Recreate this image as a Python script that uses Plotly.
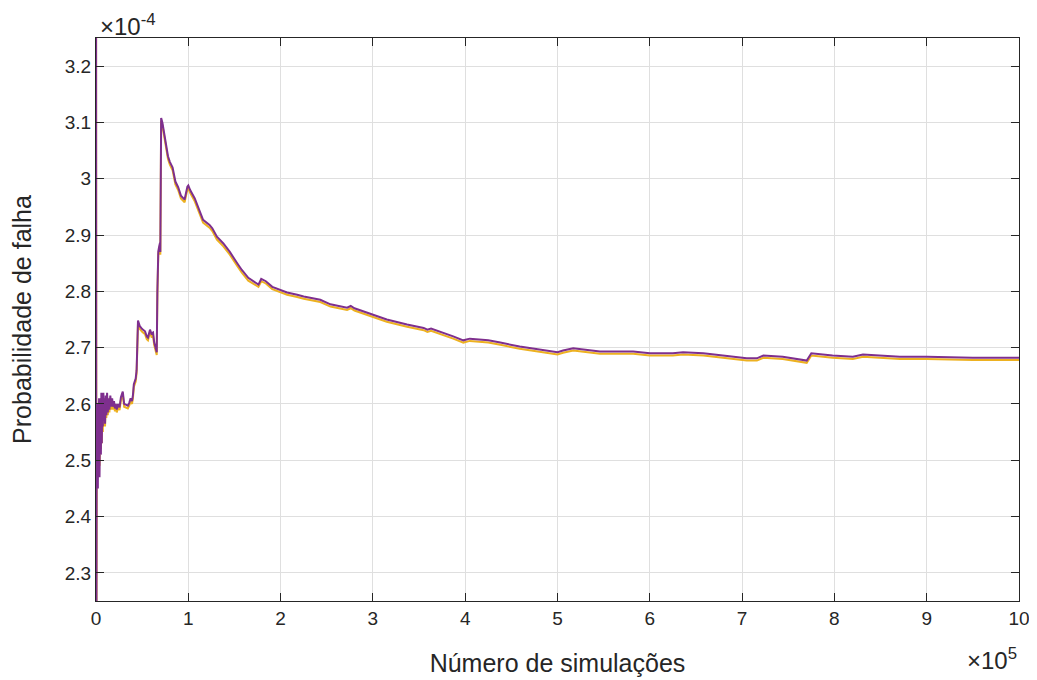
import plotly.graph_objects as go

# x: número de simulações (×10^5); y: probabilidade de falha (×10^-4)
sim_x = [0.000, 0.004, 0.008, 0.012, 0.016, 0.020, 0.024, 0.028, 0.033, 0.038,
         0.043, 0.048, 0.053, 0.058, 0.063, 0.068, 0.074, 0.080, 0.086, 0.092,
         0.098, 0.105, 0.112, 0.120, 0.128, 0.136, 0.145, 0.155, 0.165, 0.175,
         0.185, 0.195, 0.205, 0.215, 0.225, 0.240, 0.255, 0.270, 0.290, 0.305,
         0.325, 0.345, 0.360, 0.375, 0.390, 0.400, 0.410, 0.420, 0.430, 0.440,
         0.447, 0.455, 0.475, 0.500, 0.531, 0.550, 0.563, 0.575, 0.585, 0.600,
         0.618, 0.630, 0.645, 0.658, 0.665, 0.675, 0.685, 0.693, 0.697, 0.700,
         0.706, 0.720, 0.740, 0.760, 0.780, 0.800, 0.830, 0.860, 0.890, 0.920,
         0.960, 0.990, 1.000, 1.020, 1.070, 1.160, 1.230, 1.260, 1.310, 1.380,
         1.450, 1.530, 1.580, 1.650, 1.760, 1.790, 1.840, 1.910, 2.000, 2.070,
         2.180, 2.250, 2.430, 2.500, 2.540, 2.720, 2.760, 2.800, 3.000, 3.150,
         3.370, 3.550, 3.590, 3.630, 3.870, 3.980, 4.050, 4.250, 4.380, 4.590,
         5.000, 5.060, 5.170, 5.460, 5.820, 6.000, 6.250, 6.360, 6.580, 6.680,
         6.900, 7.050, 7.160, 7.230, 7.440, 7.700, 7.750, 7.980, 8.200, 8.310,
         8.710, 9.000, 9.500, 10.000]

prob_roxo = [3.600, 2.100, 2.580, 2.460, 2.600, 2.450, 2.590, 2.480, 2.610, 2.470,
             2.550, 2.610, 2.510, 2.620, 2.530, 2.610, 2.560, 2.620, 2.570, 2.610,
             2.565, 2.615, 2.580, 2.620, 2.585, 2.610, 2.590, 2.615, 2.595, 2.610,
             2.595, 2.605, 2.592, 2.600, 2.590, 2.600, 2.594, 2.612, 2.622, 2.600,
             2.598, 2.597, 2.602, 2.610, 2.605, 2.615, 2.635, 2.640, 2.645, 2.660,
             2.700, 2.748, 2.738, 2.733, 2.729, 2.720, 2.718, 2.728, 2.732, 2.725,
             2.727, 2.710, 2.700, 2.692, 2.800, 2.871, 2.880, 2.886, 2.870, 3.104,
             3.108, 3.099, 3.080, 3.060, 3.040, 3.030, 3.020, 2.995, 2.985, 2.970,
             2.963, 2.986, 2.988, 2.980, 2.965, 2.927, 2.918, 2.912, 2.897, 2.885,
             2.870, 2.850, 2.838, 2.824, 2.812, 2.822, 2.818, 2.808, 2.803, 2.798,
             2.794, 2.791, 2.785, 2.780, 2.777, 2.771, 2.774, 2.770, 2.759, 2.750,
             2.741, 2.735, 2.732, 2.734, 2.720, 2.713, 2.716, 2.713, 2.709, 2.702,
             2.692, 2.695, 2.699, 2.693, 2.693, 2.690, 2.690, 2.692, 2.690, 2.688,
             2.684, 2.681, 2.681, 2.686, 2.684, 2.677, 2.690, 2.686, 2.684, 2.688,
             2.684, 2.684, 2.682, 2.682]

prob_amarelo = [3.600, 2.100, 2.570, 2.470, 2.590, 2.480, 2.580, 2.490, 2.600, 2.490,
                2.540, 2.600, 2.520, 2.610, 2.530, 2.600, 2.550, 2.610, 2.560, 2.600,
                2.560, 2.605, 2.575, 2.612, 2.580, 2.604, 2.585, 2.610, 2.590, 2.605,
                2.590, 2.600, 2.587, 2.595, 2.585, 2.595, 2.589, 2.607, 2.617, 2.595,
                2.593, 2.592, 2.597, 2.605, 2.600, 2.610, 2.630, 2.635, 2.640, 2.655,
                2.695, 2.743, 2.733, 2.728, 2.724, 2.715, 2.713, 2.723, 2.727, 2.720,
                2.722, 2.705, 2.695, 2.687, 2.795, 2.866, 2.875, 2.881, 2.865, 3.099,
                3.103, 3.094, 3.075, 3.055, 3.035, 3.025, 3.015, 2.990, 2.980, 2.965,
                2.958, 2.981, 2.983, 2.975, 2.960, 2.922, 2.913, 2.907, 2.892, 2.880,
                2.865, 2.845, 2.833, 2.819, 2.808, 2.818, 2.814, 2.804, 2.799, 2.794,
                2.790, 2.787, 2.781, 2.776, 2.773, 2.767, 2.770, 2.766, 2.755, 2.746,
                2.737, 2.731, 2.728, 2.730, 2.716, 2.709, 2.712, 2.709, 2.705, 2.698,
                2.688, 2.691, 2.695, 2.689, 2.689, 2.686, 2.686, 2.688, 2.686, 2.684,
                2.680, 2.677, 2.677, 2.682, 2.680, 2.673, 2.686, 2.682, 2.680, 2.684,
                2.680, 2.680, 2.678, 2.678]

x_ticks = [0, 1, 2, 3, 4, 5, 6, 7, 8, 9, 10]
y_ticks = [2.3, 2.4, 2.5, 2.6, 2.7, 2.8, 2.9, 3.0, 3.1, 3.2]
y_tick_text = ["2.3", "2.4", "2.5", "2.6", "2.7", "2.8", "2.9", "3", "3.1", "3.2"]

FONT = "Liberation Sans, Arial, Helvetica, sans-serif"
TXT = "#262626"

fig = go.Figure()
fig.add_trace(go.Scatter(x=sim_x, y=prob_amarelo, mode="lines",
                         line=dict(color="#EDB120", width=2), showlegend=False))
fig.add_trace(go.Scatter(x=sim_x, y=prob_roxo, mode="lines",
                         line=dict(color="#7E2F8E", width=2), showlegend=False))

axis_common = dict(showline=True, linecolor=TXT, linewidth=1, mirror="allticks",
                   ticks="inside", ticklen=8, tickcolor=TXT, tickwidth=1,
                   showgrid=True, gridcolor="#dfdfdf", gridwidth=1, zeroline=False,
                   automargin=False,
                   tickfont=dict(family=FONT, size=19, color=TXT))

fig.update_xaxes(range=[0, 10], tickvals=x_ticks, ticktext=[str(v) for v in x_ticks],
                 title=dict(text="Número de simulações", font=dict(family=FONT, size=25, color=TXT),
                            standoff=26),
                 **axis_common)
fig.update_yaxes(range=[2.25, 3.25], tickvals=y_ticks, ticktext=y_tick_text,
                 title=dict(text="Probabilidade de falha", font=dict(family=FONT, size=25, color=TXT),
                            standoff=27),
                 **axis_common)

fig.add_annotation(xref="paper", yref="paper", x=0, y=1, xanchor="left", yanchor="bottom",
                   xshift=2, yshift=-4, showarrow=False,
                   text="×10<sup>-4</sup>", font=dict(family=FONT, size=24, color=TXT))
fig.add_annotation(xref="paper", yref="paper", x=1, y=0, xanchor="right", yanchor="top",
                   xshift=0, yshift=-41, showarrow=False,
                   text="×10<sup>5</sup>", font=dict(family=FONT, size=24, color=TXT))

# the page adds an 8 px body margin, so the figure is sized to fit inside it
fig.update_layout(width=1029, height=672, plot_bgcolor="white", paper_bgcolor="white",
                  margin=dict(l=88, r=18, t=30, b=79))

fig.write_html("out.html")
